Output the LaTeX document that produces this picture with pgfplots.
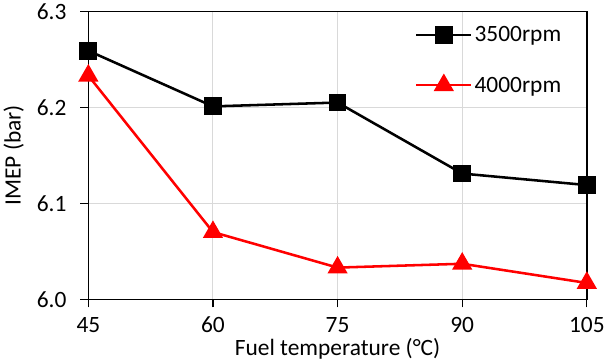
\documentclass[border=0pt]{standalone}
\usepackage{pgfplots}
\pgfplotsset{compat=1.18}
\usepackage{fontspec}
\setmainfont{Carlito}
\begin{document}
\begin{tikzpicture}
\begin{axis}[
  scale only axis,
  width=490pt, height=283pt,
  xmin=45, xmax=105, ymin=6.0, ymax=6.3,
  xtick={45,60,75,90,105},
  ytick={6.0,6.1,6.2,6.3},
  yticklabel style={font=\fontsize{23}{27}\selectfont, xshift=-10pt},
  yticklabel style={/pgf/number format/.cd,fixed,fixed zerofill,precision=1},
  /pgf/number format/assume math mode=true,
  tick align=outside,
  major tick length=8pt,
  tick style={black, line width=1.2pt},
  xtick pos=bottom, ytick pos=left,
  axis line style={black, line width=1.5pt},
  grid=major,
  major grid style={gray!30, line width=1pt},
  xlabel={Fuel temperature (°C)},
  ylabel={IMEP (bar)},
  xticklabel style={font=\fontsize{23}{27}\selectfont, yshift=-6pt},
  xlabel style={font=\fontsize{23}{27}\selectfont, yshift=2pt},
  ylabel style={font=\fontsize{23}{27}\selectfont, yshift=6pt},
  legend style={draw=none, fill=none, at={(0.655,0.955)}, anchor=north west,
    font=\fontsize{23}{27}\selectfont, row sep=29pt, inner sep=0pt},
  legend cell align=left,
  legend image code/.code={
    \draw[mark repeat=2,mark phase=2] plot coordinates {(0cm,0cm) (0.95cm,0cm) (1.9cm,0cm)};
  },
]
\addplot[black, line width=2.5pt, mark=square*, mark size=7.5pt, mark options={solid}] coordinates {
(45,6.259) (60,6.201) (75,6.205) (90,6.131) (105,6.119)};
\addlegendentry{3500rpm}
\addplot[red, line width=2.5pt, mark=triangle*, mark size=9pt, mark options={solid}] coordinates {
(45,6.233) (60,6.070) (75,6.033) (90,6.037) (105,6.017)};
\addlegendentry{4000rpm}
\end{axis}
\end{tikzpicture}
\end{document}
